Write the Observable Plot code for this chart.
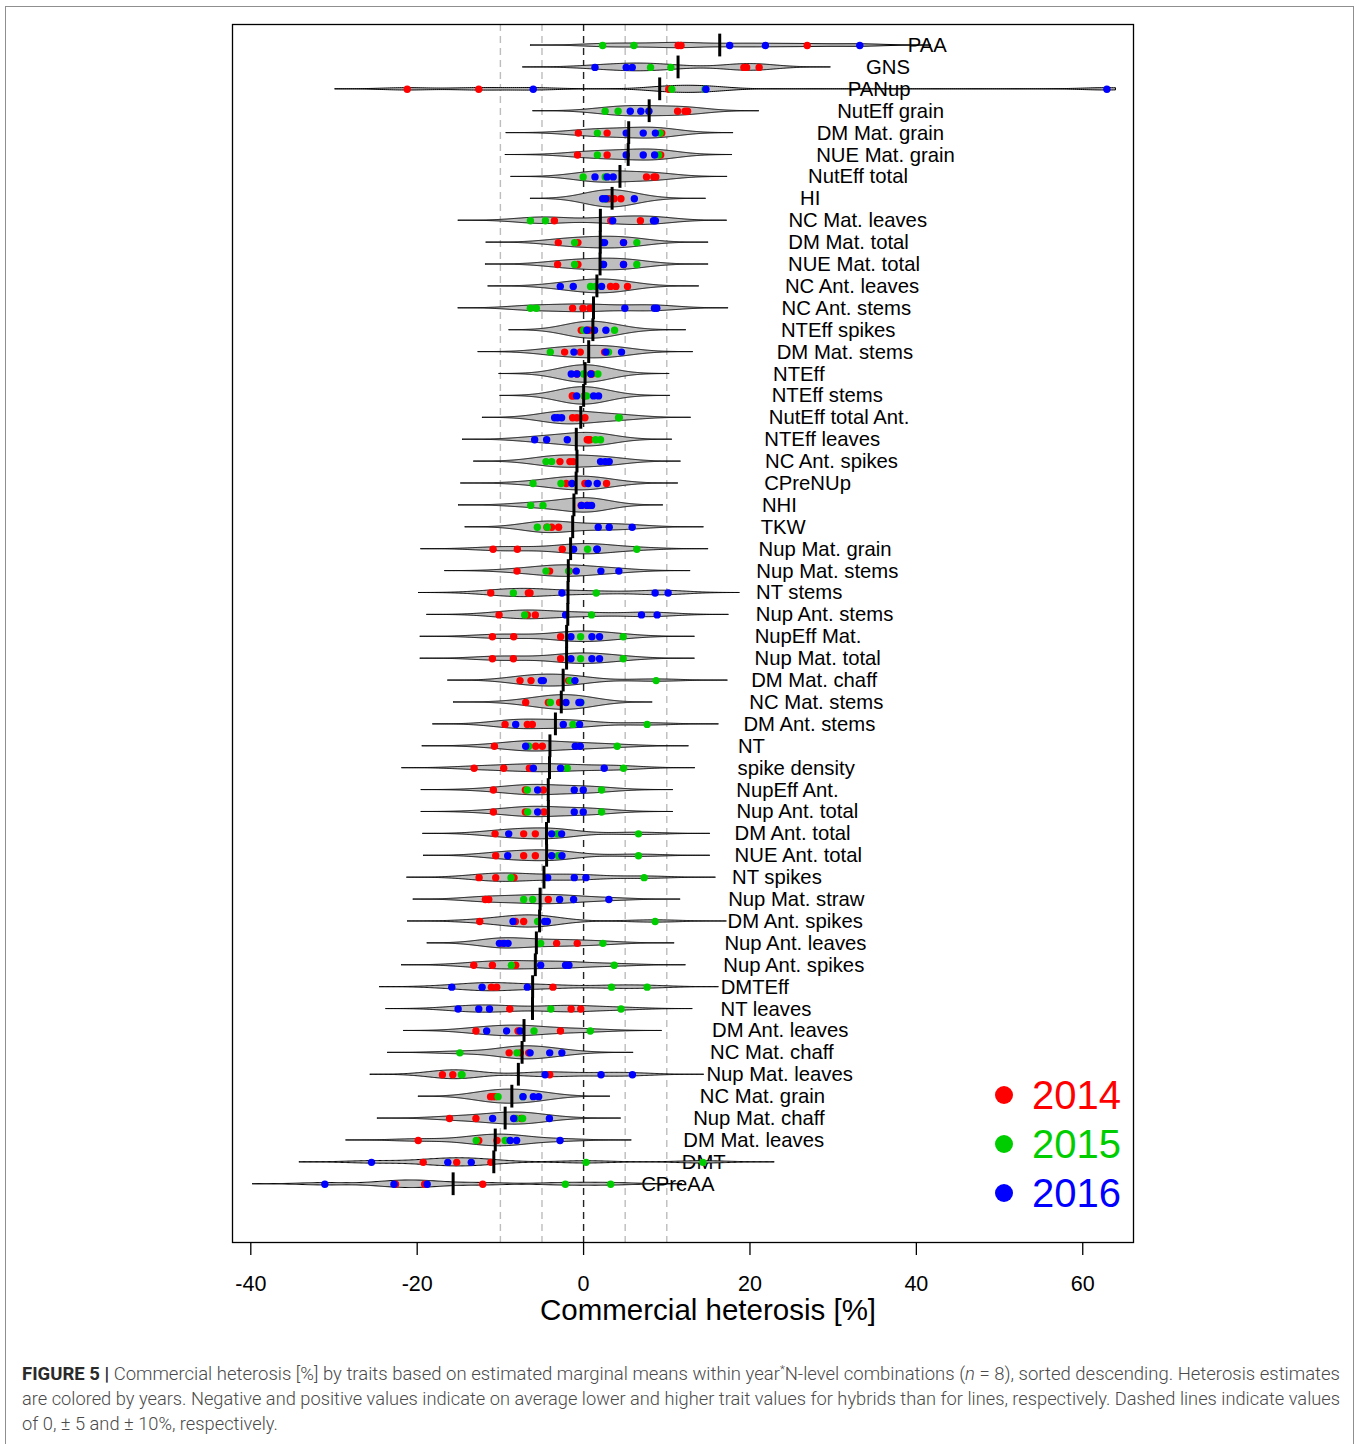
<!DOCTYPE html>
<html>
<head>
<meta charset="utf-8">
<script src="https://cdn.jsdelivr.net/npm/d3@7"></script>
<script src="https://cdn.jsdelivr.net/npm/@observablehq/plot@0.6"></script>
<style>
  body { margin: 0; background: #fff; }
  #wrap { position: relative; width: 1362px; height: 1444px; overflow: hidden; font-family: "Liberation Sans", Arial, sans-serif; }
  #chart { position: absolute; left: 0; top: 0; }
  #border { position: absolute; left: 5px; top: 6px; width: 1347px; height: 1460px; border: 1.5px solid #8f8f8f; border-bottom: none; }
  #xlabel { position: absolute; left: 540px; top: 1298px; font-size: 29.5px; line-height: 24px; white-space: nowrap; color: #000; }
  .leg { position: absolute; left: 995px; height: 44px; white-space: nowrap; }
  .leg .dot { position: absolute; left: 0; top: 13px; width: 18px; height: 18px; border-radius: 50%; }
  .leg .lab { position: absolute; left: 37px; top: 0; font-size: 40px; line-height: 44px; }
  .cap { position: absolute; left: 22px; white-space: nowrap; font-size: 18px; line-height: 22px; color: #4a4a4a; transform-origin: 0 0; font-family: "Roboto", "Liberation Sans", Arial, sans-serif; font-weight: 300; }
  .cap b { font-weight: 700; color: #2a2a2a; }
  .cap sup { font-size: 11px; vertical-align: 7px; line-height: 0; }
</style>
</head>
<body>
<div id="wrap">
  <div id="chart"></div>
  <div id="border"></div>
  <div id="xlabel">Commercial heterosis [%]</div>
  <div id="legend"></div>
  <div class="cap" id="cap1" style="top:1363px"><b>FIGURE 5 |</b> Commercial heterosis [%] by traits based on estimated marginal means within year<sup>*</sup>N-level combinations (<i>n</i> = 8), sorted descending. Heterosis estimates</div>
  <div class="cap" id="cap2" style="top:1388px">are colored by years. Negative and positive values indicate on average lower and higher trait values for hybrids than for lines, respectively. Dashed lines indicate values</div>
  <div class="cap" id="cap3" style="top:1413px">of 0, ± 5 and ± 10%, respectively.</div>
</div>
<script>
// ---------------- data ----------------
const traits = ["PAA","GNS","PANup","NutEff grain","DM Mat. grain","NUE Mat. grain","NutEff total","HI",
  "NC Mat. leaves","DM Mat. total","NUE Mat. total","NC Ant. leaves","NC Ant. stems","NTEff spikes",
  "DM Mat. stems","NTEff","NTEff stems","NutEff total Ant.","NTEff leaves","NC Ant. spikes","CPreNUp",
  "NHI","TKW","Nup Mat. grain","Nup Mat. stems","NT stems","Nup Ant. stems","NupEff Mat.","Nup Mat. total",
  "DM Mat. chaff","NC Mat. stems","DM Ant. stems","NT","spike density","NupEff Ant.","Nup Ant. total",
  "DM Ant. total","NUE Ant. total","NT spikes","Nup Mat. straw","DM Ant. spikes","Nup Ant. leaves",
  "Nup Ant. spikes","DMTEff","NT leaves","DM Ant. leaves","NC Mat. chaff","Nup Mat. leaves","NC Mat. grain",
  "Nup Mat. chaff","DM Mat. leaves","DMT","CPreAA"];

const years = ["2014", "2015", "2016"];
const yearColors = ["#FF0000", "#00CD00", "#0000FF"];

const v2014 = [
  [11.37, 11.71, 26.88], [19.27, 19.6, 21.1], [-21.2, -12.6, 10.24], [11.3, 12.2, 12.5],
  [-0.63, 2.83, 9.4], [-0.73, 2.83, 9.27], [7.56, 8.44, 8.68], [3.0, 3.66, 4.49],
  [-3.51, 3.27, 6.83], [-3.04, -0.68, 4.8], [-3.12, -0.68, 4.8], [3.24, 3.88, 5.28],
  [-1.32, -0.08, 0.76], [-0.28, 0.4, 0.7], [-2.28, -0.4, 2.52], [-0.8, 0.88, 1.0],
  [-1.36, -1.3, 0.08], [-1.32, -0.8, 0.16], [0.44, 0.6, 0.76], [-2.84, -1.64, -1.24],
  [-2.08, 0.16, 2.76], [-0.3, 0.4, 0.7], [-4.4, -3.84, -3.0], [-10.88, -7.96, -2.56],
  [-8.0, -4.08, -1.72], [-11.16, -6.64, -6.44], [-10.16, -6.76, -5.8], [-10.96, -8.4, -2.76],
  [-10.96, -8.44, -2.76], [-7.64, -6.32, -1.8], [-6.96, -4.24, -2.88], [-9.44, -6.76, -6.16],
  [-10.72, -5.76, -4.96], [-13.16, -9.6, -6.52], [-10.84, -7.0, -4.84], [-10.84, -7.0, -4.76],
  [-10.64, -7.2, -5.8], [-10.56, -7.2, -5.8], [-12.56, -10.56, -8.36], [-11.8, -11.4, -4.24],
  [-12.48, -8.2, -7.2], [-9.8, -3.24, -0.76], [-13.2, -10.96, -8.16], [-11.08, -10.44, -3.68],
  [-8.87, -1.5, -0.34], [-12.94, -7.88, -2.78], [-8.95, -7.6, -6.6], [-16.97, -15.72, -4.07],
  [-11.18, -10.9, -10.6], [-16.11, -12.94, -7.5], [-19.88, -12.6, -10.41], [-19.28, -15.25, -11.14],
  [-22.6, -19.1, -12.12]
];
const v2015 = [
  [2.29, 6.05], [8.05, 10.49], [10.6, 14.6], [2.59, 4.15],
  [1.66, 9.2], [1.66, 9.02], [-0.05, 2.6], [2.5, 2.7],
  [-6.39, -4.59], [-1.08, 6.4], [-1.08, 6.4], [0.84, 1.44],
  [-6.4, -5.68], [0, 3.72], [-4.0, 3.0], [0, 1.72],
  [0.1, 0.36], [4.2, 4.3], [1.44, 2.04], [-4.52, -3.84],
  [-6.08, -2.72], [-6.36, -4.88], [-5.56, -4.36], [0.48, 6.4],
  [-4.52, -1.8], [-8.44, 1.52], [-7.08, 0.96], [-0.36, 4.76],
  [-0.36, 4.76], [-1.64, 8.72], [-4.0, -0.32], [-1.28, 7.64],
  [-6.6, 4.04], [-1.96, 4.8], [-6.76, 2.16], [-6.72, 2.16],
  [-3.16, 6.6], [-3.04, 6.6], [-8.72, 7.28], [-7.2, -6.12],
  [-5.52, 8.6], [-5.16, 2.32], [-8.68, 3.68], [3.36, 7.64],
  [-3.94, 4.5], [-5.96, 0.81], [-14.87, -8.01], [-14.61, -14.69],
  [-10.28, -7.3], [-8.1, -7.33], [-12.9, -9.43], [0.3, 14.35],
  [-2.19, 3.26]
];
const v2016 = [
  [17.56, 21.85, 33.2], [1.37, 5.12, 5.85], [-6.05, 14.7, 62.9], [5.61, 6.88, 7.85],
  [5.12, 7.17, 8.63], [5.12, 7.17, 8.54], [1.37, 2.83, 3.56], [2.29, 2.68, 6.1],
  [3.5, 8.4, 8.63], [2.32, 2.52, 4.8], [2.32, 2.4, 4.8], [-2.8, -1.24, 2.16],
  [4.96, 8.52, 8.8], [0.4, 1.32, 2.68], [-1.16, 2.68, 4.56], [-1.48, -0.8, 0.88],
  [-0.84, 1.2, 1.8], [-3.48, -3.12, -2.64], [-5.88, -4.44, -1.96], [2.04, 2.6, 3.08],
  [-1.4, 0.56, 1.64], [-0.24, 0.44, 0.96], [1.76, 3.08, 5.84], [-1.2, 1.6, 1.64],
  [-0.88, 2.08, 4.24], [-2.6, 8.6, 10.16], [-2.16, 6.96, 8.84], [-1.52, 1.0, 1.92],
  [-1.52, 1.0, 1.92], [-5.08, -4.84, -1.04], [-2.12, -0.56, -0.36], [-8.16, -2.44, -0.48],
  [-6.96, -1.0, -0.4], [-6.04, -2.76, 2.48], [-5.52, -1.12, -0.04], [-5.52, -1.12, -0.04],
  [-9.0, -3.84, -2.64], [-9.12, -3.84, -2.6], [-4.32, -1.12, 0.28], [-2.88, -1.2, 3.04],
  [-8.48, -4.68, -4.36], [-10.12, -9.56, -9.08], [-5.16, -2.16, -1.76], [-15.84, -12.2, -6.76],
  [-15.08, -12.6, -11.31], [-11.65, -9.25, -7.63], [-6.43, -4.07, -2.61], [-4.63, 2.1, 5.87],
  [-7.28, -6.04, -5.4], [-10.93, -8.4, -4.11], [-8.83, -8.05, -2.83], [-25.49, -16.32, -13.5],
  [-31.1, -22.79, -18.8]
];
const xTicks = [-40, -20, 0, 20, 40, 60];
const refLines = [-10, -5, 5, 10];

// ---------------- derived tables ----------------
const bw = 2.875;          // common kernel bandwidth (bean density)
const cutMax = 64;         // right limit of density estimation
const yearVals = [v2014, v2015, v2016];

const rows = traits.map((t, i) => {
  const vals = [...v2014[i], ...v2015[i], ...v2016[i]];
  return { trait: t, i, vals, mean: d3.mean(vals) };
});

const points = [];
rows.forEach(r => {
  yearVals.forEach((arr, k) => arr[r.i].forEach(v => points.push({ i: r.i, v, year: years[k] })));
});

function kde(vals, lo, hi, n) {
  const out = [];
  const c = 1 / (vals.length * bw * Math.sqrt(2 * Math.PI));
  for (let k = 0; k <= n; k++) {
    const x = lo + (hi - lo) * k / n;
    let s = 0;
    for (const v of vals) { const u = (x - v) / bw; s += Math.exp(-0.5 * u * u); }
    out.push({ x, f: s * c });
  }
  return out;
}
let beans = [];
rows.forEach(r => {
  const lo = d3.min(r.vals) - 3 * bw;
  const hi = Math.min(d3.max(r.vals) + 3 * bw, cutMax);
  kde(r.vals, lo, hi, 400).forEach(p => beans.push({ i: r.i, x: p.x, f: p.f }));
});
const fmax = d3.max(beans, d => d.f);
beans = beans.map(d => ({ ...d, h: 0.4 * d.f / fmax }));

// ---------------- plot ----------------
const chart = Plot.plot({
  width: 1362,
  height: 1340,
  marginLeft: 232,
  marginRight: 229,
  marginTop: 24,
  marginBottom: 98,
  x: { domain: [-42.2, 66.1] },
  y: { domain: [54.66, -0.96], axis: null },
  color: { domain: years, range: yearColors },
  style: { fontFamily: "'Liberation Sans', Arial, sans-serif", background: "transparent", color: "black" },
  marks: [
    Plot.ruleX(refLines, { stroke: "#BDBDBD", strokeWidth: 1.4, strokeDasharray: "7,5" }),
    Plot.ruleX([0], { stroke: "#222", strokeWidth: 1.4, strokeDasharray: "7,5" }),
    Plot.text(rows, { x: d => d.mean + 22.6, y: "i", text: "trait", textAnchor: "start", fontSize: 20.3, fill: "black" }),
    Plot.areaY(beans, { x: "x", y1: d => d.i - d.h, y2: d => d.i + d.h, z: "i", fill: "#BEBEBE", stroke: "black", strokeWidth: 1, curve: "linear" }),
    Plot.dot(points, { x: "v", y: "i", fill: "year", r: 3.7 }),
    Plot.ruleX(rows, { x: "mean", y1: d => d.i - 0.52, y2: d => d.i + 0.52, stroke: "black", strokeWidth: 3 }),
    Plot.frame({ stroke: "black", strokeWidth: 1.3 }),
    Plot.axisX({ ticks: xTicks, tickFormat: d => String(d), tickSize: 13, tickPadding: 20, fontSize: 21.5, label: null, strokeWidth: 1.3 })
  ]
});
document.getElementById("chart").appendChild(chart);

// legend
const leg = document.getElementById("legend");
const legY = [1095, 1144, 1193];
years.forEach((y, k) => {
  const d = document.createElement("div");
  d.className = "leg";
  d.style.top = (legY[k] - 22) + "px";
  d.innerHTML = `<div class="dot" style="background:${yearColors[k]}"></div><div class="lab" style="color:${yearColors[k]}">${y}</div>`;
  leg.appendChild(d);
});

// fit caption lines to the reference widths
function fitCaption() {
  const c1 = document.getElementById("cap1"), c2 = document.getElementById("cap2"), c3 = document.getElementById("cap3");
  [c1, c2, c3].forEach(c => c.style.transform = "none");
  const s1 = 1318 / c1.getBoundingClientRect().width;
  const s2 = 1318 / c2.getBoundingClientRect().width;
  c1.style.transform = `scaleX(${s1})`;
  c2.style.transform = `scaleX(${s2})`;
  c3.style.transform = `scaleX(${s2})`;
}
fitCaption();
if (document.fonts && document.fonts.ready) document.fonts.ready.then(fitCaption);
</script>
</body>
</html>
